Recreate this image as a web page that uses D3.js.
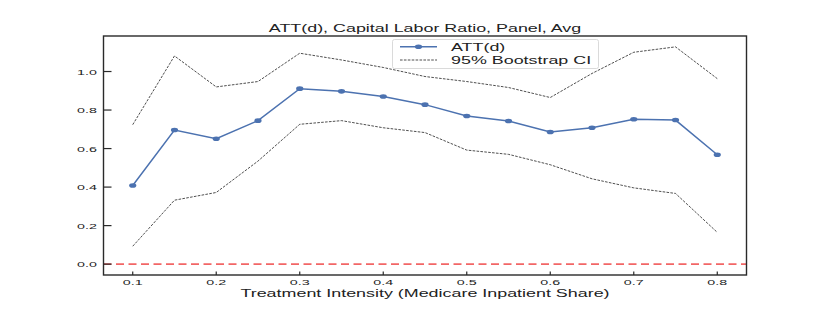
<!DOCTYPE html>
<html lang="en">
<head>
<meta charset="UTF-8">
<title>ATT(d), Capital Labor Ratio</title>
<script src="https://cdn.jsdelivr.net/npm/d3@7"></script>
<style>
  body { margin: 0; background: #fff; }
  text { font-family: "Liberation Sans", Arial, sans-serif; fill: #222; }
</style>
</head>
<body>
<svg id="chart" width="830" height="310"></svg>
<script>
// data
const dose = [0.1, 0.15, 0.2, 0.25, 0.3, 0.35, 0.4, 0.45, 0.5, 0.55, 0.6, 0.65, 0.7, 0.75, 0.8];
const att = [0.408, 0.696, 0.651, 0.745, 0.911, 0.897, 0.870, 0.828, 0.769, 0.743, 0.686, 0.708, 0.752, 0.748, 0.568];
const ciUpper = [0.724, 1.081, 0.920, 0.948, 1.095, 1.060, 1.021, 0.974, 0.948, 0.917, 0.865, 0.990, 1.100, 1.128, 0.963];
const ciLower = [0.093, 0.332, 0.372, 0.535, 0.726, 0.745, 0.708, 0.683, 0.592, 0.570, 0.516, 0.443, 0.396, 0.367, 0.165];
const xTicks = [0.1, 0.2, 0.3, 0.4, 0.5, 0.6, 0.7, 0.8];
const yTicks = [0.0, 0.2, 0.4, 0.6, 0.8, 1.0];
const titleText = "ATT(d), Capital Labor Ratio, Panel, Avg";
const xLabel = "Treatment Intensity (Medicare Inpatient Share)";
const legendLabels = ["ATT(d)", "95% Bootstrap CI"];

// the picture is stretched sideways, text too
const SX = 1.79;
const pLeft = 103.5, pRight = 746.5, pTop = 36, pBottom = 275;

const svg = d3.select("#chart");

// matplotlib style 5% padding
function padded(lo, hi) {
  const m = (hi - lo) * 0.05;
  return [lo - m, hi + m];
}
const xs = d3.scaleLinear().domain(padded(d3.min(dose), d3.max(dose))).range([pLeft, pRight]);
const allY = ciLower.concat(ciUpper, att, [0]);
const ys = d3.scaleLinear().domain(padded(d3.min(allY), d3.max(allY))).range([pBottom, pTop]);

function stretchText(x, y, str, size, anchor) {
  return svg.append("text")
    .attr("transform", `translate(${x},${y}) scale(${SX},1)`)
    .attr("font-size", size)
    .attr("text-anchor", anchor)
    .text(str);
}

// zero line
svg.append("line")
  .attr("x1", pLeft).attr("x2", pRight)
  .attr("y1", ys(0)).attr("y2", ys(0))
  .attr("stroke", "#f26666").attr("stroke-width", 1.8)
  .attr("stroke-dasharray", "8,4.5");

const line = d3.line().x((d, i) => xs(dose[i])).y(d => ys(d));

// CI bands
[ciUpper, ciLower].forEach(arr => {
  svg.append("path")
    .attr("d", line(arr))
    .attr("fill", "none")
    .attr("stroke", "#222")
    .attr("stroke-width", 0.8)
    .attr("stroke-dasharray", "2.6,1.3");
});

// ATT line + markers
svg.append("path")
  .attr("d", line(att))
  .attr("fill", "none")
  .attr("stroke", "#4c72b0")
  .attr("stroke-width", 1.5);

svg.append("g").selectAll("ellipse")
  .data(att)
  .join("ellipse")
  .attr("cx", (d, i) => xs(dose[i]))
  .attr("cy", d => ys(d))
  .attr("rx", 3.6).attr("ry", 2.3)
  .attr("fill", "#4c72b0");

// spines
svg.append("rect")
  .attr("x", pLeft).attr("y", pTop)
  .attr("width", pRight - pLeft).attr("height", pBottom - pTop)
  .attr("fill", "none")
  .attr("stroke", "#2a2a2a")
  .attr("stroke-width", 1.4);

// x ticks (inward)
xTicks.forEach(t => {
  svg.append("line")
    .attr("x1", xs(t)).attr("x2", xs(t))
    .attr("y1", pBottom).attr("y2", pBottom - 3.5)
    .attr("stroke", "#2a2a2a").attr("stroke-width", 1.2);
  stretchText(xs(t), 285, d3.format(".1f")(t), 8, "middle");
});

// y ticks (inward)
yTicks.forEach(t => {
  svg.append("line")
    .attr("x1", pLeft).attr("x2", pLeft + 8)
    .attr("y1", ys(t)).attr("y2", ys(t))
    .attr("stroke", "#2a2a2a").attr("stroke-width", 1.2);
  stretchText(97, ys(t) + 3, d3.format(".1f")(t), 8, "end");
});

// title and axis label
stretchText((pLeft + pRight) / 2, 31.5, titleText, 10, "middle");
stretchText((pLeft + pRight) / 2, 297, xLabel, 10, "middle");

// legend
const lg = svg.append("g");
lg.append("rect")
  .attr("x", 392.5).attr("y", 39.5)
  .attr("width", 206).attr("height", 29)
  .attr("rx", 2)
  .attr("fill", "#fff").attr("fill-opacity", 0.85)
  .attr("stroke", "#d0d0d0").attr("stroke-width", 0.8);

lg.append("line")
  .attr("x1", 400).attr("x2", 437).attr("y1", 46.7).attr("y2", 46.7)
  .attr("stroke", "#4c72b0").attr("stroke-width", 1.5);
lg.append("ellipse")
  .attr("cx", 418.5).attr("cy", 46.7).attr("rx", 3.6).attr("ry", 2.3)
  .attr("fill", "#4c72b0");
lg.append("line")
  .attr("x1", 400).attr("x2", 437).attr("y1", 60).attr("y2", 60)
  .attr("stroke", "#222").attr("stroke-width", 0.8)
  .attr("stroke-dasharray", "2.6,1.3");

stretchText(451, 50.7, legendLabels[0], 10, "start");
stretchText(451, 64, legendLabels[1], 10, "start");
</script>
</body>
</html>
